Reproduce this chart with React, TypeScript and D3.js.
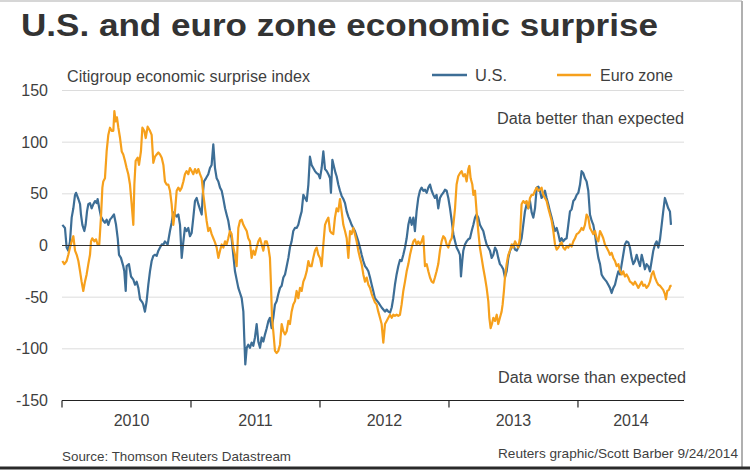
import React from "react";
import * as d3 from "d3";

// ---- Data (decimal years since 2010, index value) ----
const START_YEAR = 2010;
const END_YEAR = 2014.822;

const usSeries: [number, number][] = [
  [0.003,20],[0.023,17],[0.036,-2],[0.049,-5],[0.062,4],[0.075,27],[0.088,36],[0.101,49],[0.109,51],[0.127,45],[0.140,40],[0.147,30],[0.158,20],[0.173,14],[0.183,20],[0.194,33],[0.204,40],[0.217,41],[0.230,36],[0.243,40],[0.256,43],[0.269,41],[0.276,45],[0.289,36],[0.302,28],[0.320,24],[0.333,22],[0.346,25],[0.359,20],[0.372,25],[0.385,27],[0.403,30],[0.419,20],[0.432,7],[0.442,-9],[0.457,-12],[0.475,-20],[0.483,-25],[0.494,-44],[0.501,-20],[0.519,-18],[0.535,-30],[0.553,-33],[0.566,-38],[0.579,-35],[0.592,-41],[0.605,-52],[0.623,-55],[0.630,-57],[0.643,-64],[0.656,-54],[0.669,-38],[0.682,-25],[0.695,-15],[0.708,-10],[0.721,-9],[0.734,-10],[0.747,-5],[0.760,-2],[0.773,1],[0.786,1],[0.798,4],[0.819,1],[0.837,14],[0.850,22],[0.863,32],[0.876,30],[0.889,28],[0.902,30],
  [0.915,20],[0.928,-12],[0.941,4],[0.953,17],[0.966,14],[0.979,17],[0.992,9],[1.005,12],[1.018,27],[1.031,43],[1.044,46],[1.057,40],[1.070,35],[1.083,30],[1.091,49],[1.101,62],[1.116,65],[1.134,69],[1.147,75],[1.160,78],[1.173,98],[1.186,75],[1.199,65],[1.212,62],[1.225,56],[1.238,53],[1.251,45],[1.264,36],[1.276,30],[1.289,24],[1.302,14],[1.315,7],[1.328,-9],[1.341,-25],[1.354,-33],[1.367,-41],[1.380,-46],[1.393,-51],[1.406,-64],[1.413,-89],[1.421,-115],[1.432,-99],[1.444,-96],[1.457,-99],[1.470,-94],[1.483,-97],[1.496,-89],[1.509,-76],[1.522,-93],[1.535,-99],[1.548,-89],[1.561,-93],[1.574,-86],[1.587,-80],[1.600,-73],[1.612,-70],[1.625,-80],[1.638,-70],[1.651,-57],[1.664,-54],[1.677,-47],[1.690,-41],[1.703,-39],[1.716,-31],[1.729,-28],[1.742,-20],[1.755,-12],[1.767,-2],[1.780,4],[1.793,14],[1.806,17],[1.819,17],[1.832,20],[1.845,27],[1.858,33],[1.871,49],
  [1.884,46],[1.897,43],[1.910,59],[1.922,86],[1.935,78],[1.948,75],[1.961,72],[1.974,70],[1.987,69],[2.000,65],[2.013,75],[2.026,91],[2.039,74],[2.052,72],[2.065,69],[2.078,65],[2.085,51],[2.096,83],[2.111,75],[2.121,70],[2.129,67],[2.142,59],[2.155,53],[2.168,48],[2.181,45],[2.194,41],[2.207,33],[2.220,28],[2.233,24],[2.245,20],[2.258,17],[2.271,14],[2.284,9],[2.297,4],[2.310,-2],[2.323,-9],[2.336,-15],[2.349,-20],[2.362,-22],[2.375,-25],[2.388,-31],[2.401,-38],[2.413,-44],[2.426,-51],[2.452,-55],[2.478,-60],[2.491,-62],[2.504,-64],[2.517,-62],[2.530,-64],[2.543,-65],[2.556,-60],[2.568,-51],[2.581,-38],[2.594,-28],[2.607,-20],[2.620,-14],[2.633,-15],[2.646,-9],[2.659,-2],[2.672,7],[2.685,20],[2.698,27],[2.711,20],[2.724,27],[2.736,14],[2.749,33],[2.762,46],[2.775,53],[2.788,56],[2.801,53],[2.814,54],[2.827,51],[2.840,56],
  [2.853,59],[2.866,53],[2.879,49],[2.891,46],[2.904,49],[2.917,36],[2.930,46],[2.943,49],[2.956,51],[2.969,54],[2.982,53],[2.995,46],[3.008,36],[3.021,24],[3.034,11],[3.047,4],[3.059,-2],[3.072,-5],[3.085,-9],[3.093,-30],[3.103,-15],[3.111,-5],[3.124,1],[3.137,4],[3.150,6],[3.163,7],[3.176,14],[3.189,20],[3.202,27],[3.214,30],[3.227,27],[3.240,20],[3.253,17],[3.266,14],[3.279,7],[3.292,1],[3.305,-2],[3.318,-5],[3.331,-12],[3.344,-9],[3.357,-2],[3.370,-5],[3.382,-12],[3.395,-18],[3.408,-20],[3.421,-23],[3.434,-31],[3.447,-25],[3.460,-12],[3.473,-5],[3.486,-2],[3.499,1],[3.512,-4],[3.525,-5],[3.537,-2],[3.550,1],[3.563,7],[3.576,20],[3.589,33],[3.602,40],[3.615,36],[3.628,43],[3.641,32],[3.654,27],[3.667,36],[3.680,56],[3.693,57],[3.705,53],[3.718,46],[3.731,49],[3.744,53],[3.757,46],[3.770,40],[3.783,33],[3.796,27],[3.809,20],
  [3.822,14],[3.835,17],[3.848,11],[3.860,4],[3.873,7],[3.886,4],[3.899,6],[3.912,7],[3.925,20],[3.938,33],[3.951,35],[3.964,43],[3.977,45],[3.990,49],[4.003,51],[4.016,59],[4.028,72],[4.041,70],[4.054,65],[4.067,62],[4.080,53],[4.093,30],[4.106,24],[4.119,20],[4.132,11],[4.145,-2],[4.158,-12],[4.171,-18],[4.183,-28],[4.196,-31],[4.209,-33],[4.222,-35],[4.235,-38],[4.248,-41],[4.261,-46],[4.274,-41],[4.287,-38],[4.300,-31],[4.313,-25],[4.326,-28],[4.339,-18],[4.351,-9],[4.364,1],[4.377,4],[4.390,3],[4.403,-2],[4.416,-12],[4.429,-18],[4.442,-15],[4.455,-9],[4.468,-15],[4.481,-20],[4.494,-9],[4.506,-15],[4.519,-23],[4.532,-18],[4.545,-20],[4.558,-25],[4.571,-15],[4.584,-5],[4.597,1],[4.610,4],[4.623,-2],[4.636,6],[4.649,20],[4.661,33],[4.674,46],[4.687,41],[4.700,36],[4.713,33],[4.721,20],
];

const euroSeries: [number, number][] = [
  [0.003,-15],[0.018,-18],[0.036,-15],[0.049,-9],[0.062,-2],[0.075,4],[0.088,9],[0.101,-5],[0.114,-9],[0.127,-15],[0.140,-25],[0.152,-35],[0.165,-44],[0.178,-35],[0.191,-28],[0.204,-18],[0.217,-9],[0.225,4],[0.235,7],[0.251,4],[0.264,6],[0.276,1],[0.289,1],[0.302,27],[0.313,56],[0.320,62],[0.333,65],[0.346,91],[0.359,107],[0.372,114],[0.385,111],[0.398,111],[0.406,130],[0.416,120],[0.426,124],[0.437,114],[0.450,104],[0.463,91],[0.475,88],[0.488,82],[0.501,75],[0.514,69],[0.527,59],[0.540,40],[0.553,20],[0.561,59],[0.571,82],[0.587,85],[0.597,78],[0.612,91],[0.623,114],[0.638,111],[0.649,104],[0.664,115],[0.682,111],[0.695,107],[0.708,80],[0.721,86],[0.734,88],[0.747,90],[0.760,88],[0.773,85],[0.786,78],[0.798,62],[0.811,59],[0.824,59],[0.837,53],[0.850,40],[0.863,20],[0.876,33],[0.889,53],[0.902,56],
  [0.915,53],[0.928,56],[0.941,62],[0.953,69],[0.966,72],[0.979,69],[0.992,75],[1.005,72],[1.018,69],[1.031,74],[1.044,70],[1.057,74],[1.070,69],[1.083,65],[1.096,49],[1.109,36],[1.121,24],[1.134,14],[1.147,17],[1.160,11],[1.173,7],[1.186,3],[1.199,-2],[1.212,-12],[1.225,-5],[1.238,1],[1.251,-2],[1.264,4],[1.276,1],[1.289,7],[1.302,14],[1.315,11],[1.328,-2],[1.341,-9],[1.354,-20],[1.367,17],[1.380,24],[1.393,25],[1.406,20],[1.419,17],[1.432,14],[1.444,7],[1.457,4],[1.470,-12],[1.483,-5],[1.496,-9],[1.509,-2],[1.522,4],[1.535,7],[1.548,1],[1.561,-5],[1.574,4],[1.587,4],[1.600,-2],[1.612,-12],[1.620,-38],[1.628,-70],[1.638,-83],[1.651,-102],[1.664,-104],[1.677,-102],[1.690,-96],[1.703,-76],[1.716,-83],[1.729,-86],[1.742,-83],[1.755,-73],[1.767,-76],[1.780,-64],[1.793,-57],[1.806,-54],[1.819,-44],[1.832,-51],[1.845,-41],[1.858,-44],[1.871,-35],
  [1.884,-31],[1.897,-25],[1.910,-15],[1.922,-20],[1.935,-20],[1.948,-12],[1.961,-5],[1.974,-2],[1.987,-9],[2.000,-12],[2.013,-20],[2.026,1],[2.039,20],[2.052,24],[2.065,27],[2.078,14],[2.090,12],[2.103,11],[2.116,27],[2.129,36],[2.142,33],[2.155,45],[2.168,33],[2.181,20],[2.194,14],[2.207,7],[2.220,-12],[2.233,14],[2.245,11],[2.258,17],[2.271,11],[2.284,4],[2.297,-5],[2.310,-12],[2.323,-18],[2.336,-28],[2.349,-35],[2.362,-31],[2.375,-38],[2.388,-41],[2.401,-47],[2.413,-51],[2.426,-55],[2.439,-57],[2.452,-64],[2.465,-70],[2.478,-76],[2.491,-94],[2.504,-76],[2.517,-73],[2.530,-70],[2.543,-67],[2.556,-70],[2.568,-67],[2.581,-68],[2.594,-67],[2.607,-68],[2.620,-67],[2.633,-57],[2.646,-44],[2.659,-35],[2.672,-25],[2.685,-18],[2.698,-9],[2.711,-2],[2.724,4],[2.736,6],[2.749,1],[2.762,4],[2.775,1],[2.788,4],[2.801,9],[2.814,-20],[2.827,-18],[2.840,-25],
  [2.853,-31],[2.866,-35],[2.879,-36],[2.891,-31],[2.904,-25],[2.917,-18],[2.930,-5],[2.943,4],[2.956,9],[2.969,7],[2.982,1],[2.995,-2],[3.008,4],[3.021,7],[3.034,20],[3.047,36],[3.059,59],[3.072,67],[3.085,70],[3.098,72],[3.111,67],[3.124,69],[3.137,62],[3.150,74],[3.158,77],[3.168,65],[3.181,59],[3.189,49],[3.202,53],[3.214,33],[3.227,14],[3.240,-2],[3.253,-12],[3.266,-22],[3.279,-31],[3.292,-41],[3.305,-54],[3.313,-70],[3.323,-80],[3.333,-76],[3.344,-70],[3.357,-73],[3.370,-67],[3.382,-76],[3.395,-70],[3.408,-64],[3.416,-57],[3.426,-44],[3.434,-31],[3.447,-18],[3.460,-9],[3.473,-5],[3.486,1],[3.499,-2],[3.512,4],[3.525,1],[3.537,-2],[3.550,7],[3.563,40],[3.576,43],[3.589,41],[3.602,43],[3.615,36],[3.628,46],[3.641,49],[3.654,49],[3.667,53],[3.680,56],[3.693,53],[3.705,54],[3.718,56],[3.731,49],[3.744,46],[3.757,43],[3.770,36],[3.783,30],[3.796,24],[3.809,14],
  [3.822,1],[3.835,-4],[3.848,-2],[3.860,1],[3.873,3],[3.886,-2],[3.899,-4],[3.912,-1],[3.925,-2],[3.938,1],[3.951,-1],[3.964,4],[3.977,7],[3.990,11],[4.003,12],[4.016,14],[4.028,17],[4.041,15],[4.054,20],[4.067,30],[4.080,27],[4.093,17],[4.106,14],[4.119,11],[4.132,14],[4.145,7],[4.158,4],[4.171,14],[4.183,11],[4.196,7],[4.209,1],[4.222,-2],[4.235,-5],[4.248,-9],[4.261,-7],[4.274,-12],[4.287,-15],[4.300,-20],[4.313,-18],[4.326,-25],[4.339,-28],[4.351,-25],[4.364,-30],[4.377,-28],[4.390,-31],[4.403,-35],[4.416,-36],[4.429,-38],[4.442,-35],[4.455,-38],[4.468,-41],[4.481,-38],[4.494,-35],[4.506,-39],[4.519,-38],[4.532,-41],[4.545,-39],[4.558,-35],[4.571,-28],[4.584,-25],[4.597,-31],[4.610,-35],[4.623,-38],[4.636,-39],[4.649,-41],[4.661,-43],[4.674,-47],[4.682,-52],[4.692,-44],[4.705,-43],[4.716,-39],[4.726,-39],
];

const yTicks = [150, 100, 50, 0, -50, -100, -150];
const yearTicks = [2010, 2011, 2012, 2013, 2014];
const yearLabels = ["2010", "2011", "2012", "2013", "2014"];

const TITLE = "U.S. and euro zone economic surprise";
const SUBTITLE = "Citigroup economic surprise index";
const LEGEND = ["U.S.", "Euro zone"];
const NOTE_TOP = "Data better than expected";
const NOTE_BOTTOM = "Data worse than expected";
const SOURCE = "Source: Thomson Reuters Datastream";
const CREDIT = "Reuters graphic/Scott Barber 9/24/2014";

const BLUE = "#3d6e96";
const ORANGE = "#f6a01c";
const FONT = "'Liberation Sans', Arial, sans-serif";
const TEXT = "#3f3f3f";

export default function App() {
  const W = 750, H = 470;
  const x = d3.scaleLinear().domain([START_YEAR, END_YEAR]).range([62, 684]);
  const y = d3.scaleLinear().domain([-150, 150]).range([400.5, 90.5]);
  const line = d3
    .line<[number, number]>()
    .x((d) => x(START_YEAR + d[0]))
    .y((d) => y(d[1]))
    .curve(d3.curveLinear);

  const labelPos = yearTicks.map((yr, i) => {
    const a = yr;
    const b = Math.min(yr + 1, END_YEAR);
    return (x(a) + x(b)) / 2 + (i === 0 ? 5 : 0);
  });

  return (
    <div style={{ position: "absolute", left: 0, top: 0 }}>
      <svg width={W} height={H} style={{ display: "block", background: "#fff" }} fontFamily={FONT}>
        {/* frame */}
        <line x1={0} x2={742} y1={1} y2={1} stroke="#c8c8c8" strokeWidth={1.5} />
        <line x1={742} x2={742} y1={1} y2={467} stroke="#b0b0b0" strokeWidth={2} />
        <line x1={0} x2={750} y1={468} y2={468} stroke="#2a2a2a" strokeWidth={3} />

        {/* title */}
        <text x={21} y={36} fontSize={31} fontWeight="bold" fill="#333" textLength={637} lengthAdjust="spacingAndGlyphs">
          {TITLE}
        </text>
        <text x={67} y={82} fontSize={16} fill={TEXT} textLength={243} lengthAdjust="spacingAndGlyphs">
          {SUBTITLE}
        </text>

        {/* legend */}
        <line x1={432} x2={467} y1={75} y2={75} stroke={BLUE} strokeWidth={2.5} />
        <text x={475} y={81} fontSize={16} fill={TEXT} textLength={32} lengthAdjust="spacingAndGlyphs">{LEGEND[0]}</text>
        <line x1={557} x2={591} y1={75} y2={75} stroke={ORANGE} strokeWidth={2.5} />
        <text x={600} y={81} fontSize={16} fill={TEXT} textLength={73} lengthAdjust="spacingAndGlyphs">{LEGEND[1]}</text>

        {/* grid */}
        {yTicks.filter((v) => v !== 0 && v !== -150).map((v) => (
          <line key={v} x1={62} x2={684} y1={y(v)} y2={y(v)} stroke="#dcdcdc" strokeWidth={1} />
        ))}
        {yTicks.map((v) => (
          <text key={"l" + v} x={48} y={y(v)} dy="0.35em" fontSize={16} fill={TEXT} textAnchor="end">
            {v}
          </text>
        ))}

        {/* notes */}
        <text x={684} y={124} fontSize={16} fill={TEXT} textAnchor="end" textLength={187} lengthAdjust="spacingAndGlyphs">{NOTE_TOP}</text>
        <text x={686} y={383} fontSize={16} fill={TEXT} textAnchor="end" textLength={188} lengthAdjust="spacingAndGlyphs">{NOTE_BOTTOM}</text>

        {/* series */}
        <path d={line(usSeries) || ""} fill="none" stroke={BLUE} strokeWidth={2.2} strokeLinejoin="round" />
        <path d={line(euroSeries) || ""} fill="none" stroke={ORANGE} strokeWidth={2.2} strokeLinejoin="round" />

        {/* zero line */}
        <line x1={62} x2={684} y1={y(0)} y2={y(0)} stroke="#333" strokeWidth={1.2} />

        {/* x axis */}
        <line x1={62} x2={684} y1={y(-150)} y2={y(-150)} stroke="#222" strokeWidth={1.2} />
        {yearTicks.map((yr) => (
          <line key={"t" + yr} x1={x(yr)} x2={x(yr)} y1={y(-150)} y2={y(-150) + 7} stroke="#222" strokeWidth={1.2} />
        ))}
        {yearLabels.map((lab, i) => (
          <text key={lab} x={labelPos[i]} y={426} fontSize={16} fill={TEXT} textAnchor="middle">
            {lab}
          </text>
        ))}

        {/* footer */}
        <text x={62} y={461} fontSize={13.5} fill={TEXT} textLength={229} lengthAdjust="spacingAndGlyphs">{SOURCE}</text>
        <text x={738} y={458} fontSize={13.5} fill={TEXT} textAnchor="end" textLength={240} lengthAdjust="spacingAndGlyphs">{CREDIT}</text>
      </svg>
    </div>
  );
}
